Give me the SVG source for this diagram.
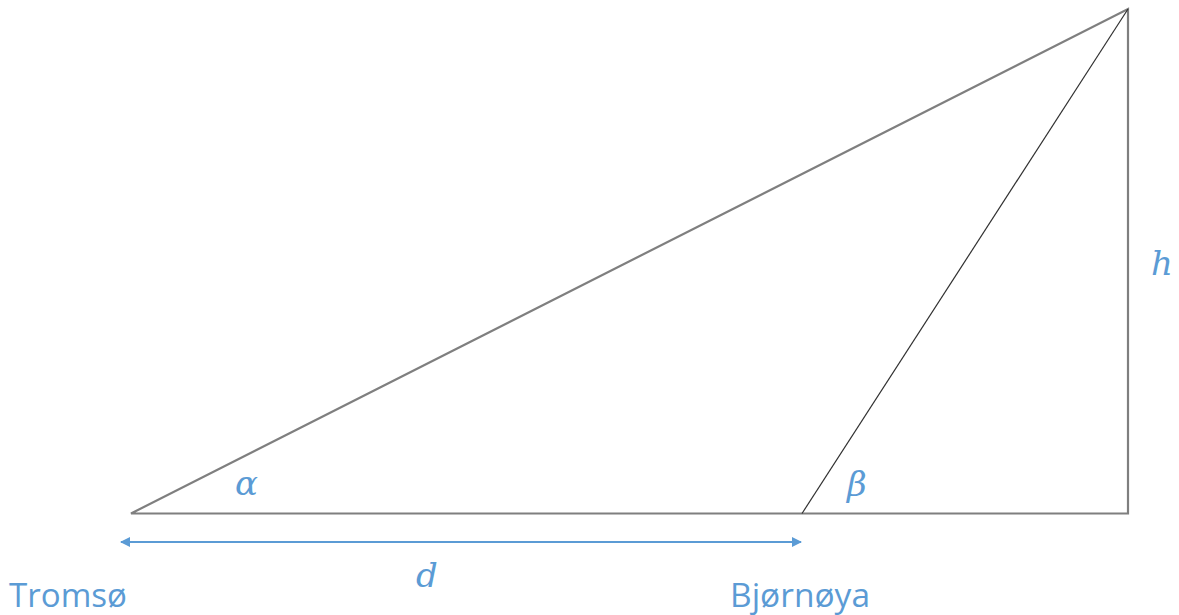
<svg xmlns="http://www.w3.org/2000/svg" width="1179" height="615" viewBox="0 0 1179 615">
<style>
.edge{stroke:#7f7f7f;stroke-width:2.2;fill:none;stroke-linejoin:miter}
.thin{stroke:#303030;stroke-width:1.2;fill:none}
.lbl{font-family:"Open Sans","Liberation Sans",sans-serif;font-size:32px;fill:#5b9bd5}
.math{font-family:"DejaVu Serif","Liberation Serif",serif;font-style:italic;font-size:34px;fill:#5b9bd5}
</style>
<defs>
<marker id="ah" viewBox="0 0 10 10" refX="9" refY="5" markerWidth="10" markerHeight="10" markerUnits="userSpaceOnUse" orient="auto-start-reverse">
<path d="M0,0 L10,5 L0,10 Z" fill="#5b9bd5"/>
</marker>
</defs>
<g id="connectors">
<path class="edge" d="M131,513.5 L1128,9 L1128,513.5 Z"/>
<line class="thin" x1="802" y1="513.5" x2="1128" y2="9"/>
<line x1="121" y1="542" x2="801" y2="542" stroke="#5b9bd5" stroke-width="2" marker-start="url(#ah)" marker-end="url(#ah)"/>
</g>
<g id="labels">
<text class="lbl" x="9" y="607" textLength="118" lengthAdjust="spacingAndGlyphs">Tromsø</text>
<text class="lbl" x="730" y="607" textLength="140" lengthAdjust="spacingAndGlyphs">Bjørnøya</text>
<text class="math" x="235" y="495">α</text>
<text class="math" x="847" y="496">β</text>
<text class="math" x="1151" y="275">h</text>
<text class="math" x="416" y="587">d</text>
</g>
</svg>
